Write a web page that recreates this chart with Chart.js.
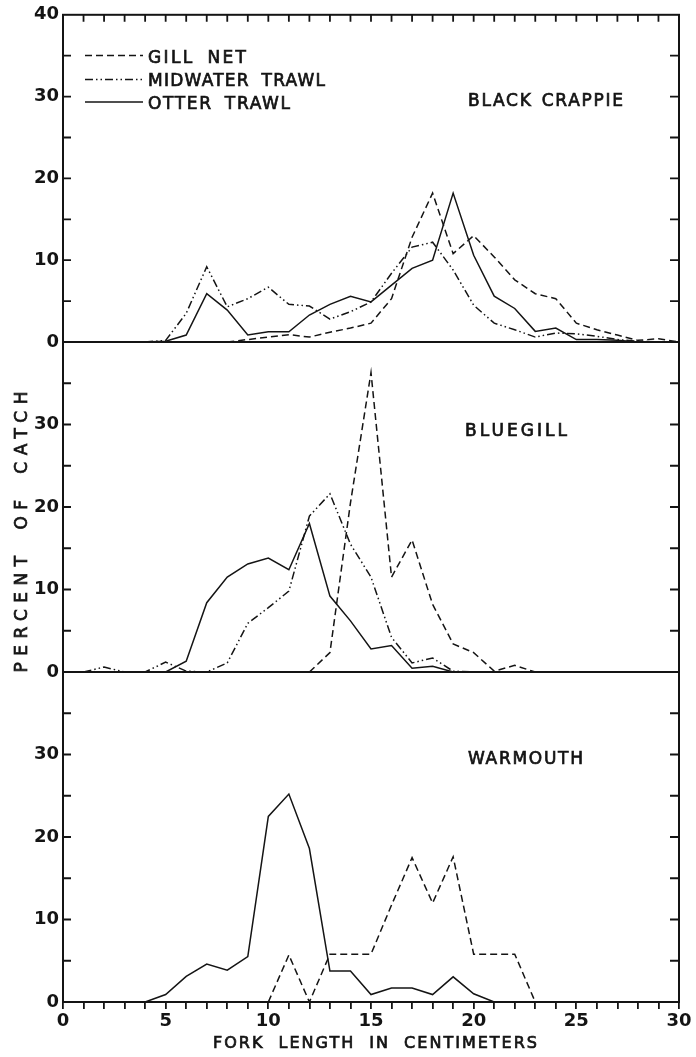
<!DOCTYPE html>
<html>
<head>
<meta charset="utf-8">
<script src="https://cdn.jsdelivr.net/npm/chart.js@4.4.0/dist/chart.umd.min.js"></script>
<style>
  body { margin: 0; background: #fff; }
  #wrap { position: relative; width: 696px; height: 1057px; }
  #wrap canvas { position: absolute; left: 0; top: 0; }
</style>
</head>
<body>
<div id="wrap">
  <canvas id="crappie" width="696" height="1057"></canvas>
  <canvas id="bluegill" width="696" height="1057"></canvas>
  <canvas id="warmouth" width="696" height="1057"></canvas>
</div>
<script>
const N = null;
const forkLength = [0,1,2,3,4,5,6,7,8,9,10,11,12,13,14,15,16,17,18,19,20,21,22,23,24,25,26,27,28,29,30];
const lengthTicks = [0, 5, 10, 15, 20, 25, 30];
const percentTicks = [0, 10, 20, 30, 40];

// percent of catch by fork length (cm), one value per centimetre, null = not drawn
const crappieGillNet  = [N,N,N,N,N,N,N,N,0,0.3,0.6,0.9,0.6,1.2,1.7,2.3,5.3,12.8,18.2,10.8,13.0,10.4,7.6,5.9,5.3,2.3,1.5,0.85,0.2,0.4,0];
const crappieMidwater = [N,N,N,N,0,0.2,3.5,9.2,4.3,5.3,6.7,4.6,4.4,2.8,3.7,4.9,8.4,11.6,12.2,8.8,4.5,2.3,1.5,0.6,1.1,1.0,0.7,0.3,0.1,0,0];
const crappieOtter    = [N,N,N,N,0,0.1,0.85,5.9,3.9,0.85,1.25,1.25,3.3,4.6,5.6,4.9,6.95,9.0,10.0,18.2,10.6,5.6,4.1,1.3,1.7,0.3,0.3,0.2,0,0,0];

const bluegillGillNet  = [N,N,N,N,N,N,N,N,N,N,N,N,0,2.35,20.5,36.3,11.5,16.0,8.2,3.4,2.35,0.1,0.8,0,N,N,N,N,N,N,N];
const bluegillMidwater = [N,0,0.6,0,0,1.2,0.1,0,1.1,5.9,7.8,9.8,18.9,21.6,15.5,11.5,4.2,1.1,1.7,0.1,0,N,N,N,N,N,N,N,N,N,N];
const bluegillOtter    = [N,N,N,N,N,0,1.3,8.4,11.5,13.1,13.8,12.4,18.0,9.2,6.2,2.8,3.2,0.45,0.7,0,N,N,N,N,N,N,N,N,N,N,N];

const warmouthGillNet = [N,N,N,N,N,N,N,N,N,N,0,5.7,0,5.8,5.8,5.8,11.75,17.5,12.0,17.6,5.8,5.8,5.8,0,N,N,N,N,N,N,N];
const warmouthOtter   = [N,N,N,N,0,0.9,3.1,4.6,3.85,5.5,22.5,25.2,18.6,3.75,3.75,0.9,1.7,1.7,0.9,3.05,1.0,0,N,N,N,N,N,N,N,N,N];

const INK = '#141414';
const FONT = '"DejaVu Sans", sans-serif';
const gillDash = [7, 4];
const midDash = [8, 3, 1.5, 3, 1.5, 3];

const toPoints = vals => forkLength.map((x, i) => ({ x: x, y: vals[i] }));

function series(label, vals, dash) {
  return {
    label: label,
    data: toPoints(vals),
    borderColor: INK,
    borderWidth: 1.5,
    borderDash: dash,
    pointRadius: 0,
    tension: 0,
    fill: false,
    spanGaps: false
  };
}

// text stretched to a given width with letter spacing (plus a little extra between words)
// drawn with a thin outline so it reads like the inked lettering
function spacedText(ctx, text, x, y, width, wordGap) {
  ctx.letterSpacing = '0px';
  ctx.wordSpacing = (wordGap || 0) + 'px';
  const plain = ctx.measureText(text).width;
  const gap = (width - plain) / (text.length - 1);
  ctx.letterSpacing = gap + 'px';
  ctx.textAlign = 'left';
  ctx.fillText(text, x, y);
  ctx.lineWidth = 0.7;
  ctx.setLineDash([]);
  ctx.strokeText(text, x, y);
  ctx.letterSpacing = '0px';
  ctx.wordSpacing = '0px';
}

// frame plus the small inward tick marks
const framePlugin = {
  id: 'frame',
  afterDraw(chart, args, opts) {
    const { ctx, chartArea: a, scales } = chart;
    ctx.save();
    ctx.strokeStyle = INK;
    ctx.lineWidth = 2;
    ctx.setLineDash([]);
    ctx.strokeRect(a.left, a.top, a.right - a.left, a.bottom - a.top);
    ctx.lineWidth = 1.8;
    ctx.beginPath();
    for (let v = 5; v < 40; v += 5) {
      const y = scales.y.getPixelForValue(v);
      ctx.moveTo(a.left, y); ctx.lineTo(a.left + 8, y);
      ctx.moveTo(a.right, y); ctx.lineTo(a.right - 9, y);
    }
    if (opts.topTicks) {
      for (let v = 1; v < 30; v++) {
        const x = scales.x.getPixelForValue(v);
        ctx.moveTo(x, a.top); ctx.lineTo(x, a.top + 7);
      }
    }
    ctx.stroke();

    ctx.fillStyle = INK;
    if (opts.name) {
      ctx.font = '17px ' + FONT;
      spacedText(ctx, opts.name.text, opts.name.x, opts.name.y, opts.name.w, 2);
    }
    if (opts.legend) {
      ctx.font = '17px ' + FONT;
      const rows = [
        ['GILL NET', gillDash, 55.5, 62.5, 98],
        ['MIDWATER TRAWL', midDash, 79.5, 86, 177],
        ['OTTER TRAWL', [], 102, 109.3, 142]
      ];
      rows.forEach(r => {
        ctx.lineWidth = 1.7;
        ctx.setLineDash(r[1]);
        ctx.beginPath();
        ctx.moveTo(85, r[2]); ctx.lineTo(143, r[2]);
        ctx.stroke();
        ctx.setLineDash([]);
        spacedText(ctx, r[0], 148, r[3], r[4], 5);
      });
    }
    if (opts.yTitle) {
      ctx.font = '17px ' + FONT;
      ctx.translate(27, 532);
      ctx.rotate(-Math.PI / 2);
      spacedText(ctx, 'PERCENT OF CATCH', -140.5, 0, 281, 8);
      ctx.setTransform(1, 0, 0, 1, 0, 0);
    }
    if (opts.xTitle) {
      ctx.font = '16px ' + FONT;
      spacedText(ctx, 'FORK LENGTH IN CENTIMETERS', 213, 1048, 324, 7);
    }
    ctx.restore();
  }
};

function makePanel(id, top, bottom, datasets, frameOpts, showX, showTop) {
  return new Chart(document.getElementById(id), {
    type: 'line',
    data: { datasets: datasets },
    plugins: [framePlugin],
    options: {
      responsive: false,
      animation: false,
      events: [],
      layout: { padding: { left: 0, right: 17, top: top, bottom: showX ? 0 : 1057 - bottom } },
      plugins: {
        legend: { display: false },
        tooltip: { enabled: false },
        frame: frameOpts
      },
      scales: {
        x: {
          type: 'linear',
          min: 0,
          max: 30,
          display: showX,
          afterFit: showX ? (s => { s.height = 1057 - bottom; }) : undefined,
          border: { display: false },
          grid: {
            drawOnChartArea: false,
            drawTicks: true,
            tickLength: 7,
            color: INK,
            lineWidth: 1.8
          },
          ticks: {
            stepSize: 1,
            autoSkip: false,
            maxRotation: 0,
            padding: 2,
            color: INK,
            font: { family: FONT, size: 18, weight: 'bold' },
            callback: v => lengthTicks.includes(v) ? String(v) : ''
          }
        },
        y: {
          min: 0,
          max: 40,
          afterFit: s => { s.width = 63; },
          border: { display: false },
          grid: { display: false, drawTicks: false },
          ticks: {
            stepSize: 10,
            padding: 4,
            color: INK,
            font: { family: FONT, size: 18, weight: 'bold' },
            callback: v => (percentTicks.includes(v) && (showTop || v < 40)) ? String(v) : ''
          }
        }
      }
    }
  });
}

makePanel('crappie', 13.5, 342, [
  series('GILL NET', crappieGillNet, gillDash),
  series('MIDWATER TRAWL', crappieMidwater, midDash),
  series('OTTER TRAWL', crappieOtter, [])
], { topTicks: true, legend: true, name: { text: 'BLACK CRAPPIE', x: 468, y: 106, w: 155 } }, false, true);

makePanel('bluegill', 342, 672, [
  series('GILL NET', bluegillGillNet, gillDash),
  series('MIDWATER TRAWL', bluegillMidwater, midDash),
  series('OTTER TRAWL', bluegillOtter, [])
], { yTitle: true, name: { text: 'BLUEGILL', x: 465, y: 436, w: 102 } }, false, false);

makePanel('warmouth', 672, 1002, [
  series('GILL NET', warmouthGillNet, gillDash),
  series('OTTER TRAWL', warmouthOtter, [])
], { xTitle: true, name: { text: 'WARMOUTH', x: 468, y: 763.5, w: 115 } }, true, false);
</script>
</body>
</html>
